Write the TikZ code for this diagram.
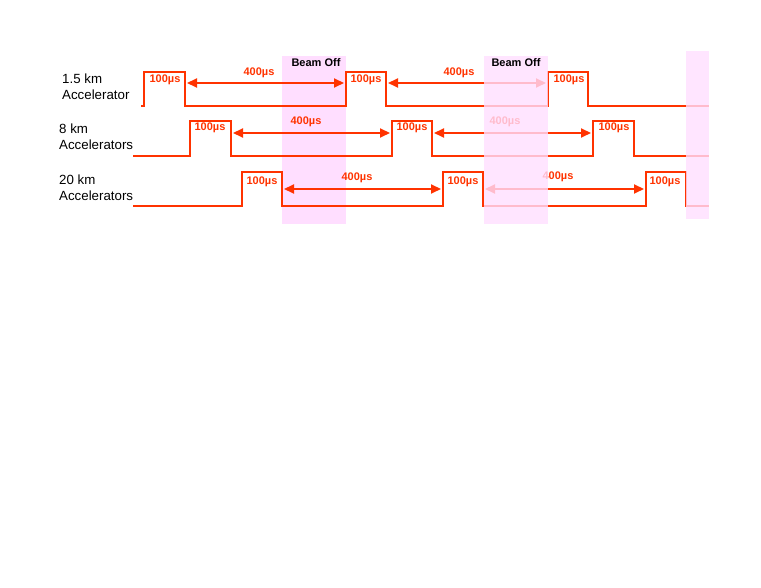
\documentclass[tikz,border=0pt]{standalone}
\usepackage{fontspec}
\setmainfont{Liberation Sans}
\usetikzlibrary{arrows.meta, positioning}

\definecolor{pulsered}{RGB}{255,51,0}
\definecolor{bandpink}{RGB}{255,222,255}

\begin{document}
\begin{tikzpicture}[x=1pt, y=-1pt]
        \tikzstyle{band} = [fill=bandpink, draw=none]
        \tikzstyle{overband} = [band, opacity=0.8]
        \tikzstyle{pulse} = [draw=pulsered, line width=2pt, line join=miter]
        \tikzstyle{gap} = [draw=pulsered, line width=2pt, {Triangle[length=10pt,width=9pt]}-{Triangle[length=10pt,width=9pt]}, shorten <=2pt, shorten >=2pt]
        \tikzstyle{usec} = [text=pulsered, font=\fontsize{11}{12}\selectfont\bfseries, inner sep=0pt]
        \tikzstyle{beamoff} = [font=\fontsize{11}{12}\selectfont\bfseries, inner sep=0pt]
        \tikzstyle{rowname} = [font=\fontsize{13.3}{16}\selectfont, align=left, anchor=west, inner sep=0pt]

        \useasboundingbox (0,0) rectangle (761,588);

        % first beam-off window sits behind the traces
        \fill [band] (282,56) rectangle (346,224);

        % row labels
        \node (lbla) [rowname] at (62,87) {1.5 km\\Accelerator};
        \node (lblb) [rowname] at (59,137) {8 km\\Accelerators};
        \node (lblc) [rowname] at (59,188) {20 km\\Accelerators};

        % pulse edges (fall of one pulse, rise of the next)
        \coordinate (af1) at (185,83);  \coordinate (ar2) at (346,83);
        \coordinate (af2) at (386,83);  \coordinate (ar3) at (548,83);
        \coordinate (bf1) at (231,133); \coordinate (br2) at (392,133);
        \coordinate (bf2) at (432,133); \coordinate (br3) at (593,133);
        \coordinate (cf1) at (282,189); \coordinate (cr2) at (443,189);
        \coordinate (cf2) at (483,189); \coordinate (cr3) at (646,189);

        % pulse trains
        \draw [pulse] (141,106) -- (144,106) -- (144,72) -- (185,72) -- (185,106) -- (346,106) -- (346,72) -- (386,72) -- (386,106) -- (548,106) -- (548,72) -- (588,72) -- (588,106) -- (709,106);
        \draw [pulse] (133,156) -- (190,156) -- (190,121) -- (231,121) -- (231,156) -- (392,156) -- (392,121) -- (432,121) -- (432,156) -- (593,156) -- (593,121) -- (634,121) -- (634,156) -- (709,156);
        \draw [pulse] (133,206) -- (242,206) -- (242,172) -- (282,172) -- (282,206) -- (443,206) -- (443,172) -- (483,172) -- (483,206) -- (646,206) -- (646,172) -- (686,172) -- (686,206) -- (709,206);

        % pulse widths
        \node (ua1) [usec] at (165,80) {100µs};
        \node (ua2) [usec] at (366,80) {100µs};
        \node (ua3) [usec] at (569,80) {100µs};
        \node (ub1) [usec] at (210,128) {100µs};
        \node (ub2) [usec] at (412,128) {100µs};
        \node (ub3) [usec] at (614,128) {100µs};
        \node (uc1) [usec] at (262,182) {100µs};
        \node (uc2) [usec] at (463,182) {100µs};
        \node (uc3) [usec] at (665,182) {100µs};

        % spacing between pulses
        \draw [gap] (af1) -- (ar2);
        \draw [gap] (af2) -- (ar3);
        \draw [gap] (bf1) -- (br2);
        \draw [gap] (bf2) -- (br3);
        \draw [gap] (cf1) -- (cr2);
        \draw [gap] (cf2) -- (cr3);
        \node (da1) [usec] at (259,73) {400µs};
        \node (da2) [usec] at (459,73) {400µs};
        \node (db1) [usec] at (306,122) {400µs};
        \node (db2) [usec] at (505,122) {400µs};
        \node (dc1) [usec] at (357,178) {400µs};
        \node (dc2) [usec] at (558,177) {400µs};

        % later beam-off windows are laid over the traces
        \fill [overband] (484,56) rectangle (548,224);
        \fill [overband] (686,51) rectangle (709,219);

        \node (off1) [beamoff] at (316,63) {Beam Off};
        \node (off2) [beamoff] at (516,63) {Beam Off};
    \end{tikzpicture}
\end{document}
